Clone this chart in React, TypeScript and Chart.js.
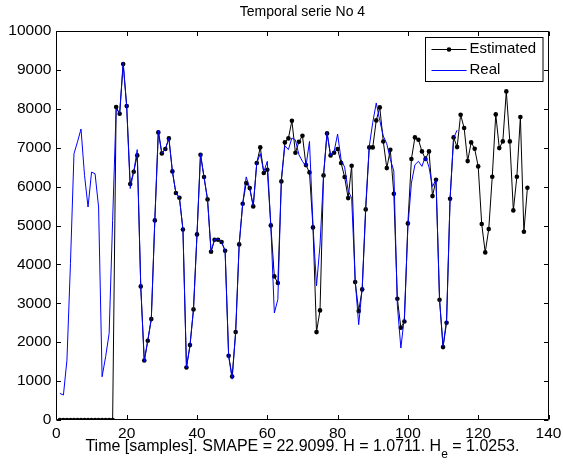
import React, { useEffect, useRef } from 'react';
import { Chart, registerables } from 'chart.js';

Chart.register(...registerables);

const FONT = '"Liberation Sans", Arial, Helvetica, sans-serif';

const TITLE = 'Temporal serie No 4';
const XLABEL_MAIN = 'Time [samples]. SMAPE = 22.9099. H = 1.0711. H';
const XLABEL_SUB = 'e';
const XLABEL_END = ' = 1.0253.';
const LEGEND_LABELS = ['Estimated', 'Real'];

const X_TICKS = [0, 20, 40, 60, 80, 100, 120, 140];
const Y_TICKS = [0, 1000, 2000, 3000, 4000, 5000, 6000, 7000, 8000, 9000, 10000];

// Estimated series, samples 1..134
const estimated = [
  0, 0, 0, 0, 0, 0, 0, 0, 0, 0, 0, 0, 0, 0, 0, 0,
  8045, 7873, 9150, 8070, 6065, 6382, 6802, 3434, 1531, 2037,
  2594, 5131, 7393, 6853, 6965, 7239, 6391, 5834, 5714, 4899,
  1351, 1926, 2843, 4771, 6819, 6245, 5671, 4325, 4634, 4634,
  4574, 4351, 1651, 1120, 2260, 4514, 5559, 6091, 5962, 5491,
  6605, 7008, 6348, 6434, 5002, 3691, 3520, 6134, 7136, 7239,
  7693, 6870, 7153, 7308, 6553, 6365, 4951, 2260, 2817, 6288,
  7368, 6802, 6871, 6965, 6605, 6245, 5705, 6536, 3545, 2800,
  3357, 5414, 7008, 7008, 7702, 8036, 7160, 6476, 6946, 5816,
  3117, 2371, 2534, 5054, 6708, 7265, 7205, 6905, 6708, 6905,
  5756, 6176, 3091, 1874, 2500, 5688, 7265, 7016, 7848, 7505,
  6656, 7136, 6973, 6519, 5037, 4308, 4908, 6253, 7856, 6990,
  7162, 8447, 7162, 5388, 6253, 7788, 4839, 5971,
];

// Real series, samples 1..114
const real = [
  684, 642, 1540, 4020, 6844, 7150, 7480, 6290, 5475, 6373,
  6330, 5475, 1112, 1625, 2224, 5133, 8000, 7880, 9200, 8050,
  5950, 6380, 6950, 3430, 1500, 2050, 2600, 5130, 7450, 6850,
  6960, 7250, 6390, 5830, 5710, 4900, 1350, 1900, 2850, 4770,
  6850, 6240, 5670, 4330, 4650, 4650, 4570, 4350, 1650, 1050,
  2260, 4510, 5560, 6250, 5960, 5500, 6600, 6850, 6380, 6650,
  5000, 2750, 3100, 6200, 7050, 6950, 7250, 7200, 6820, 6650,
  6520, 7160, 5000, 3450, 4500, 6290, 7400, 6800, 6900, 7350,
  6690, 6500, 5900, 5700, 3600, 2450, 3400, 5500, 7030, 7650,
  8150, 7700, 7300, 7100, 6700, 6400, 2950, 1850, 2650, 4970,
  6090, 6560, 6650, 6520, 6780, 6500, 6000, 6180, 3100, 1890,
  2580, 5690, 7250, 7450,
];

const toPoints = (arr: number[]) => arr.map((v, i) => ({ x: i + 1, y: v }));

const framePlugin = {
  id: 'matlabFrame',
  afterDraw(chart: any) {
    const { ctx, chartArea } = chart;
    const { left, right, top, bottom } = chartArea;
    const xs = chart.scales.x;
    const ys = chart.scales.y;
    ctx.save();
    // frame
    ctx.strokeStyle = '#000';
    ctx.lineWidth = 1;
    const L = Math.round(left) + 0.5;
    const R = Math.round(right) - 0.5;
    const T = Math.round(top) + 0.5;
    const B = Math.round(bottom) - 0.5;
    ctx.beginPath();
    ctx.rect(L, T, R - L, B - T);
    ctx.stroke();
    // inward ticks
    const tl = 4.5;
    ctx.beginPath();
    X_TICKS.forEach((v) => {
      const px = Math.round(xs.getPixelForValue(v)) + 0.5;
      ctx.moveTo(px, B);
      ctx.lineTo(px, B - tl);
      ctx.moveTo(px, T);
      ctx.lineTo(px, T + tl);
    });
    Y_TICKS.forEach((v) => {
      const py = Math.round(ys.getPixelForValue(v)) + 0.5;
      ctx.moveTo(L, py);
      ctx.lineTo(L + tl, py);
      ctx.moveTo(R, py);
      ctx.lineTo(R - tl, py);
    });
    ctx.stroke();

    // title
    const cx = (left + right) / 2;
    ctx.fillStyle = '#000';
    ctx.font = `14px ${FONT}`;
    ctx.textAlign = 'center';
    ctx.textBaseline = 'middle';
    ctx.fillText(TITLE, cx, 12);

    // x label with subscript
    const mainFont = `16px ${FONT}`;
    const subFont = `12px ${FONT}`;
    ctx.font = mainFont;
    const w1 = ctx.measureText(XLABEL_MAIN).width;
    const w3 = ctx.measureText(XLABEL_END).width;
    ctx.font = subFont;
    const w2 = ctx.measureText(XLABEL_SUB).width;
    const total = w1 + w2 + w3;
    let x0 = cx - total / 2;
    const ly = 447;
    ctx.textAlign = 'left';
    ctx.font = mainFont;
    ctx.fillText(XLABEL_MAIN, x0, ly);
    x0 += w1;
    ctx.font = subFont;
    ctx.fillText(XLABEL_SUB, x0, ly + 8);
    x0 += w2;
    ctx.font = mainFont;
    ctx.fillText(XLABEL_END, x0, ly);

    // legend box
    const bx = 425.5;
    const by = 37.5;
    const bw = 117.5;
    const bh = 44;
    ctx.fillStyle = '#fff';
    ctx.fillRect(bx, by, bw, bh);
    ctx.strokeStyle = '#000';
    ctx.strokeRect(bx, by, bw, bh);
    const rows = [by + 11.8, by + 32.5];
    const colors = ['#000', '#0000ff'];
    rows.forEach((ry, i) => {
      ctx.strokeStyle = colors[i];
      ctx.lineWidth = 1;
      ctx.beginPath();
      ctx.moveTo(bx + 6, Math.round(ry) + 0.5);
      ctx.lineTo(bx + 41, Math.round(ry) + 0.5);
      ctx.stroke();
      if (i === 0) {
        ctx.fillStyle = '#000';
        ctx.beginPath();
        ctx.arc(bx + 23.5, Math.round(ry) + 0.5, 2.3, 0, Math.PI * 2);
        ctx.fill();
      }
      ctx.fillStyle = '#000';
      ctx.font = `15px ${FONT}`;
      ctx.textAlign = 'left';
      ctx.textBaseline = 'middle';
      ctx.fillText(LEGEND_LABELS[i], bx + 44, ry);
    });
    ctx.restore();
  },
};

export default function App() {
  const ref = useRef<HTMLCanvasElement | null>(null);

  useEffect(() => {
    document.body.style.margin = '0';
    const canvas = ref.current;
    if (!canvas) return;
    const chart = new Chart(canvas, {
      type: 'line',
      data: {
        datasets: [
          {
            label: LEGEND_LABELS[1],
            data: toPoints(real),
            borderColor: '#0000ff',
            borderWidth: 1,
            pointRadius: 0,
            tension: 0,
            fill: false,
          },
          {
            label: LEGEND_LABELS[0],
            data: toPoints(estimated),
            borderColor: '#000',
            borderWidth: 1,
            pointRadius: 2.3,
            pointBackgroundColor: '#000',
            pointBorderWidth: 0,
            tension: 0,
            fill: false,
          },
        ],
      },
      options: {
        animation: false,
        responsive: false,
        devicePixelRatio: 1,
        layout: { padding: { left: 0, right: 14.5, top: 31, bottom: 0 } },
        plugins: {
          legend: { display: false },
          title: { display: false },
          tooltip: { enabled: false },
        },
        scales: {
          x: {
            type: 'linear',
            min: 0,
            max: 140,
            afterBuildTicks: (s: any) => {
              s.ticks = X_TICKS.map((v) => ({ value: v }));
            },
            afterFit: (s: any) => {
              s.height = 44;
              s.paddingLeft = 0;
              s.paddingRight = 0;
            },
            grid: { display: false, drawTicks: false },
            border: { display: false },
            ticks: {
              color: '#000',
              font: { family: FONT, size: 15.5 },
              padding: 4,
              maxRotation: 0,
              autoSkip: false,
            },
          },
          y: {
            type: 'linear',
            min: 0,
            max: 10000,
            afterBuildTicks: (s: any) => {
              s.ticks = Y_TICKS.map((v) => ({ value: v }));
            },
            afterFit: (s: any) => {
              s.width = 56.4;
              s.paddingTop = 0;
              s.paddingBottom = 0;
            },
            grid: { display: false, drawTicks: false },
            border: { display: false },
            ticks: {
              color: '#000',
              font: { family: FONT, size: 15.5 },
              padding: 5,
              autoSkip: false,
              callback: (v: any) => String(v),
            },
          },
        },
      },
      plugins: [framePlugin],
    });
    return () => chart.destroy();
  }, []);

  return (
    <div style={{ width: 563, height: 464, background: '#fff' }}>
      <canvas ref={ref} width={563} height={464} style={{ display: 'block' }} />
    </div>
  );
}
